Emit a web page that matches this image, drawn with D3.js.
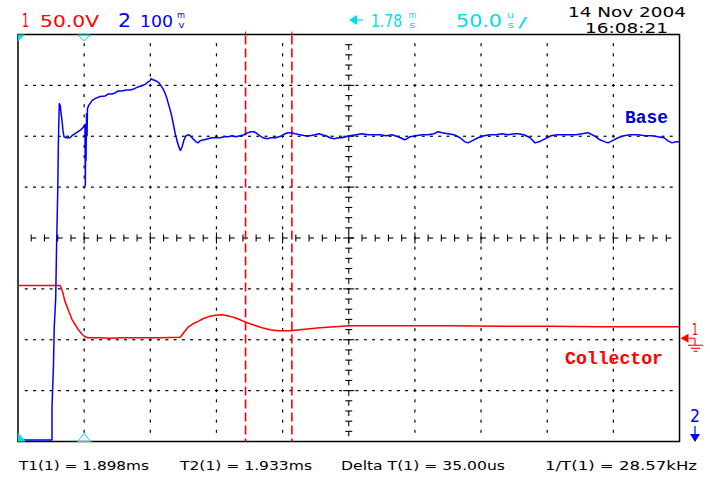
<!DOCTYPE html>
<html><head><meta charset="utf-8">
<script src="https://cdn.jsdelivr.net/npm/d3@7"></script>
<style>html,body{margin:0;padding:0;background:#fff;}svg{display:block;}</style>
</head><body>
<svg id="c" width="710" height="480"></svg>
<script>
// ---------- data ----------
const screenStartUs = 1726;          // time at left edge of screen (µs)
const timePerDivUs = 50;             // 50.0 us/div
const divisionsX = 10, divisionsY = 8;
const basePerDivMv = 100;            // channel 2: 100 mV/div
const collPerDivV = 50;              // channel 1: 50.0 V/div
const collGroundDiv = -2;            // channel 1 ground level (divisions from centre)
const triggerUs = 50;                // trigger position (from left edge)
const cursorsMs = [1.898, 1.933];

// channel 2 "Base" (time from left edge in µs, value in mV above screen bottom)
const baseTimeUs = [0,25.7,25.7,26.8,27.4,28.5,29.1,30.0,30.5,31.2,
 32.0,32.5,33.3,34.0,34.8,36.3,39.3,40.8,43.1,45.4,
 47.6,49.9,50.6,50.9,51.2,51.4,51.8,52.2,52.5,53.3,
 54.4,55.9,58.2,62.0,65.8,68.0,71.1,73.3,75.6,78.6,
 81.6,84.7,87.7,90.7,93.7,96.8,98.3,99.8,100.5,102.0,
 104.3,106.6,108.1,109.6,111.1,112.6,114.1,115.6,117.2,118.7,
 120.2,121.7,122.8,124.0,125.5,127.0,129.3,130.8,132.3,134.5,
 136.1,137.6,140.6,143.6,146.6,149.7,152.7,155.7,158.7,161.8,
 164.8,167.8,170.8,173.8,176.1,178.4,180.7,182.9,185.2,188.2,
 191.2,194.3,197.3,199.5,201.8,204.1,206.4,209.4,213.2,216.9,
 220.7,224.5,227.5,229.8,232.8,235.8,238.9,241.9,244.9,247.9,
 250.9,255.5,260.0,264.6,269.1,273.6,278.2,282.7,287.2,292.5,
 296.3,300.8,305.4,309.9,314.4,317.5,320.5,325.0,329.6,334.1,
 337.9,340.1,343.2,347.7,352.2,356.8,361.3,365.8,370.4,374.9,
 377.9,382.5,387.0,390.8,393.8,398.3,402.9,407.4,411.9,417.2,
 421.8,426.3,430.8,435.4,439.9,443.7,446.0,449.0,453.5,458.1,
 462.6,468.6,473.9,479.2,483.8,488.3,491.3,494.3,497.4,499.6];
const baseMv = [3,3,68,148,225,281,376,487,585,664,
 660,646,630,611,599,597,597,601,605,609,
 613,619,623,503,621,552,644,601,654,660,
 664,670,674,678,679,683,683,685,689,689,
 691,691,693,697,699,703,707,709,713,711,
 709,705,699,693,685,674,660,646,627,607,
 591,578,572,579,593,601,603,599,595,589,
 587,591,593,595,597,597,597,599,599,601,
 599,601,603,607,609,609,605,601,597,595,
 597,597,599,601,605,607,607,605,603,601,
 601,603,605,603,601,597,595,597,597,599,
 601,603,605,603,603,603,601,603,599,593,
 599,601,603,603,605,609,607,605,603,597,
 589,587,591,597,601,603,603,605,603,605,
 605,603,597,587,589,595,601,603,603,603,
 603,605,607,601,593,589,587,591,597,601,
 603,603,601,601,599,597,591,587,589,589];

// channel 1 "Collector" (time from left edge in µs, volts)
const collTimeUs = [0,31.7,32.5,34.0,35.5,37.8,39.3,40.8,43.1,45.4,
 48.4,50.6,52.9,62.0,69.5,77.1,92.2,107.3,122.5,123.2,
 125.5,128.5,132.3,136.1,139.8,143.6,148.9,154.2,160.3,164.0,
 167.8,171.6,175.4,179.9,184.4,190.5,196.5,205.6,213.2,220.7,
 228.3,239.6,250.9,269.8,288.7,326.5,364.3,402.1,439.9,477.7,499.6];
const collV = [53.4,53.4,51.5,45.6,37.7,29.9,25.0,20.1,15.2,10.3,
 5.4,2.9,2.0,2.0,1.5,2.0,2.0,2.0,2.5,3.4,
 7.4,12.3,15.7,18.1,20.6,22.5,24.0,24.5,23.0,21.6,
 19.6,17.6,15.7,13.7,11.8,9.8,8.8,8.8,9.8,10.8,
 11.8,12.7,13.7,13.7,13.7,13.7,13.2,13.2,12.7,12.7,12.7];

const traceNames = ["Base", "Collector"];
const ch1Label = ["1", "50.0V"];
const ch2Label = ["2", "100", "m", "v"];
const delayLabel = ["1.78", "m", "s"];
const timebaseLabel = ["50.0", "u", "s", "/"];
const dateLabel = ["14 Nov 2004", "16:08:21"];
const footerLabels = ["T1(1) = 1.898ms", "T2(1) = 1.933ms", "Delta T(1) = 35.00us", "1/T(1) = 28.57kHz"];

// ---------- styles ----------
const RED = "#ff0000", BLUE = "#0000ff", CYAN = "#00dcea", BLACK = "#000";
const L = 18, Rr = 679.5, T = 34.5, B = 441.5;
const FONT = "'DejaVu Sans', sans-serif";

const svg = d3.select("#c");
const x = d3.scaleLinear().domain([0, divisionsX * timePerDivUs]).range([L, Rr]);
const yBase = d3.scaleLinear().domain([0, divisionsY * basePerDivMv]).range([B, T]);
const yColl = d3.scaleLinear()
  .domain([(-divisionsY/2 - collGroundDiv) * collPerDivV, (divisionsY/2 - collGroundDiv) * collPerDivV])
  .range([B, T]);
const yDiv = d3.scaleLinear().domain([0, divisionsY]).range([B, T]);
const xDiv = d3.scaleLinear().domain([0, divisionsX]).range([L, Rr]);

svg.append("rect").attr("width", 710).attr("height", 480).attr("fill", "#fff");

// ---------- graticule ----------
const g = svg.append("g").attr("fill", BLACK);
d3.range(1, divisionsX).filter(i => i !== divisionsX/2).forEach(i => {
  const gx = xDiv(i);
  d3.range(1, divisionsY*5).forEach(k => {
    g.append("rect").attr("x", gx - 0.6).attr("y", yDiv(k/5) - 1.5).attr("width", 1.2).attr("height", 3);
  });
});
d3.range(1, divisionsY).filter(j => j !== divisionsY/2).forEach(j => {
  const gy = yDiv(j);
  d3.range(1, divisionsX*8).forEach(k => {
    g.append("rect").attr("x", xDiv(k/8) - 1.5).attr("y", gy - 0.6).attr("width", 3).attr("height", 1.2);
  });
});
// centre axes with ticks
const xc = xDiv(divisionsX/2), yc = yDiv(divisionsY/2);
const ax = svg.append("g").attr("stroke", BLACK).attr("stroke-width", 1.1);
d3.range(1, divisionsY*5).forEach(k => {
  const yy = yDiv(k/5), w = (k % 5 === 0) ? 5.5 : 3.5;
  ax.append("line").attr("x1", xc - w).attr("x2", xc + w).attr("y1", yy).attr("y2", yy);
  ax.append("line").attr("x1", xc).attr("x2", xc).attr("y1", yy).attr("y2", yy + 5);
});
d3.range(1, divisionsX*5).forEach(k => {
  const xx = xDiv(k/5), h = (k % 5 === 0) ? 5.5 : 3.5;
  ax.append("line").attr("x1", xx).attr("x2", xx).attr("y1", yc - h).attr("y2", yc + h);
  ax.append("line").attr("x1", xx).attr("x2", xx + 5).attr("y1", yc).attr("y2", yc);
});
// border
svg.append("rect").attr("x", L).attr("y", T).attr("width", Rr - L).attr("height", B - T)
  .attr("fill", "none").attr("stroke", BLACK).attr("stroke-width", 1.5);

// ---------- cursors ----------
cursorsMs.forEach(ms => {
  const cx = x(ms*1000 - screenStartUs);
  svg.append("line").attr("x1", cx).attr("x2", cx).attr("y1", T + 1).attr("y2", B)
    .attr("stroke", RED).attr("stroke-width", 1.6).attr("stroke-dasharray", "9,4");
  svg.append("line").attr("x1", cx).attr("x2", cx).attr("y1", T - 3).attr("y2", T)
    .attr("stroke", RED).attr("stroke-width", 1);
});

// ---------- traces ----------
const baseData = baseTimeUs.map((t, i) => [t, baseMv[i]]);
const collData = collTimeUs.map((t, i) => [t, collV[i]]);
svg.append("path").datum(collData)
  .attr("d", d3.line().x(d => x(d[0])).y(d => yColl(d[1])))
  .attr("fill", "none").attr("stroke", RED).attr("stroke-width", 1.5).attr("stroke-linejoin", "round");
svg.append("path").datum(baseData)
  .attr("d", d3.line().x(d => x(d[0])).y(d => yBase(d[1])))
  .attr("fill", "none").attr("stroke", BLUE).attr("stroke-width", 1.5).attr("stroke-linejoin", "round");

// trace labels
const lbl = (txt, xx, yy, len, col) => svg.append("text").text(txt).attr("x", xx).attr("y", yy)
  .attr("textLength", len).attr("lengthAdjust", "spacingAndGlyphs")
  .attr("font-family", "'Liberation Mono', 'Courier New', monospace").attr("font-weight", "bold")
  .attr("font-size", 18).attr("fill", col);
lbl(traceNames[0], 625, 123, 43, "#0000d0");
lbl(traceNames[1], 565, 364, 98, RED);

// ---------- markers ----------
// trigger markers (cyan)
const tx = x(triggerUs);
svg.append("path").attr("d", `M${tx-6},${T+0.5} L${tx+6},${T+0.5} L${tx},${T+6.5} Z`)
  .attr("fill", "none").attr("stroke", CYAN).attr("stroke-width", 1);
svg.append("path").attr("d", `M${tx-6.5},${B} L${tx+6.5},${B} L${tx},${B-8} Z`)
  .attr("fill", "none").attr("stroke", CYAN).attr("stroke-width", 1);
svg.append("path").attr("d", `M${L},${T} L${L+7},${T} L${L},${T+7} Z`).attr("fill", CYAN);
svg.append("path").attr("d", `M${L},${B-9} L${L+8},${B} L${L},${B} Z`).attr("fill", CYAN);

// channel 1 ground marker
const g1 = yColl(0) - 1.5;
svg.append("path").attr("d", `M${Rr+1},${g1} L${Rr+9},${g1-4.5} L${Rr+9},${g1+4.5} Z`).attr("fill", RED);
const gm = svg.append("g").attr("stroke", RED).attr("stroke-width", 1.1);
gm.append("line").attr("x1", Rr+9).attr("x2", 695).attr("y1", g1).attr("y2", g1);
gm.append("line").attr("x1", 695).attr("x2", 695).attr("y1", g1).attr("y2", g1+7);
gm.append("line").attr("x1", 688).attr("x2", 703).attr("y1", g1+7).attr("y2", g1+7);
gm.append("line").attr("x1", 691).attr("x2", 700).attr("y1", g1+10).attr("y2", g1+10);
gm.append("line").attr("x1", 693.5).attr("x2", 697.5).attr("y1", g1+13).attr("y2", g1+13);
svg.append("text").text("1").attr("x", 692).attr("y", 335).attr("font-family", FONT)
  .attr("font-size", 15).attr("fill", RED).attr("textLength", 6).attr("lengthAdjust", "spacingAndGlyphs");
// channel 2 off-screen marker
svg.append("text").text("2").attr("x", 690).attr("y", 422).attr("font-family", FONT)
  .attr("font-size", 17).attr("fill", BLUE).attr("textLength", 10).attr("lengthAdjust", "spacingAndGlyphs");
svg.append("line").attr("x1", 695).attr("x2", 695).attr("y1", 426).attr("y2", 436).attr("stroke", BLUE).attr("stroke-width", 1.2);
svg.append("path").attr("d", "M690,434 L700,434 L695,442 Z").attr("fill", BLUE);

// ---------- header ----------
const txt = (s, xx, yy, size, col, len) => {
  const t = svg.append("text").text(s).attr("x", xx).attr("y", yy).attr("font-family", FONT)
    .attr("font-size", size).attr("fill", col);
  if (len) t.attr("textLength", len).attr("lengthAdjust", "spacingAndGlyphs");
  return t;
};
txt(ch1Label[0], 22, 27, 19, RED, 7);
txt(ch1Label[1], 40, 27, 16.5, RED, 59);
txt(ch2Label[0], 118, 27, 19, BLUE, 13);
txt(ch2Label[1], 140, 27, 16.5, BLUE, 33);
txt(ch2Label[2], 177, 17.5, 8, BLUE, 8);
txt(ch2Label[3], 178.5, 28, 8, BLUE, 6);

// delay arrow
svg.append("path").attr("d", "M349,20 L357,15 L357,25 Z").attr("fill", CYAN);
svg.append("line").attr("x1", 356).attr("x2", 363).attr("y1", 20).attr("y2", 20).attr("stroke", CYAN).attr("stroke-width", 1.3);
txt(delayLabel[0], 371, 27, 17, CYAN, 31);
txt(delayLabel[1], 408.5, 17.5, 8, CYAN, 7.5);
txt(delayLabel[2], 409, 28, 8, CYAN, 6.5);
txt(timebaseLabel[0], 456, 27, 17, CYAN, 46);
txt(timebaseLabel[1], 507, 17.5, 8, CYAN, 7);
txt(timebaseLabel[2], 507.5, 28, 8, CYAN, 6.5);
txt(timebaseLabel[3], 518, 26.5, 14, CYAN, 9);

txt(dateLabel[0], 568, 17, 13.8, BLACK, 118);
txt(dateLabel[1], 585, 33, 13.8, BLACK, 83);

// ---------- footer ----------
const footX = [19, 180, 341, 545], footLen = [130, 132, 164, 152];
footerLabels.forEach((s, i) => txt(s, footX[i], 470, 12.5, BLACK, footLen[i]));
</script>
</body></html>
